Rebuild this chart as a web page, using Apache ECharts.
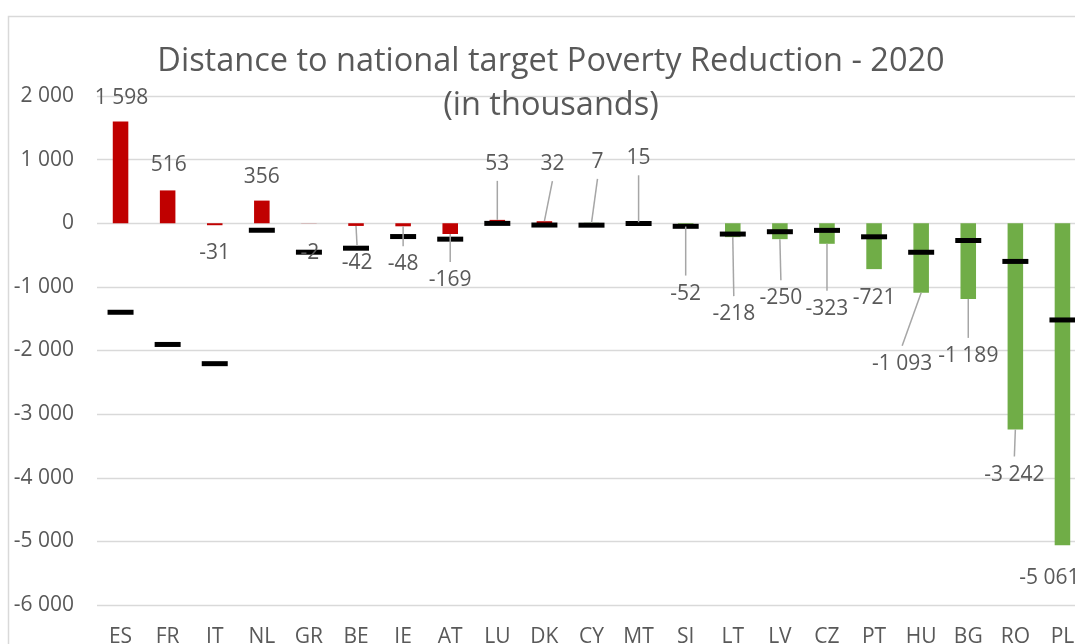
<!DOCTYPE html>
<html><head><meta charset="utf-8">
<script src="https://cdn.jsdelivr.net/npm/echarts@6/dist/echarts.min.js"></script>
<style>html,body{margin:0;padding:0;background:#fff}#c{width:1075px;height:644px}</style>
</head><body><div id="c"></div>
<script>
// ---- data ----
const categories = ['ES','FR','IT','NL','GR','BE','IE','AT','LU','DK','CY','MT','SI','LT','LV','CZ','PT','HU','BG','RO','PL'];
const distanceValues = [1598, 516, -31, 356, -2, -42, -48, -169, 53, 32, 7, 15, -52, -218, -250, -323, -721, -1093, -1189, -3242, -5061];
const targetValues = [-1399, -1905, -2207, -110, -455, -392, -209, -250, -2, -28, -30, -4, -48, -170, -133, -112, -213, -456, -271, -600, -1520];
const yTickValues = [2000, 1000, 0, -1000, -2000, -3000, -4000, -5000, -6000];
const titleLines = ['Distance to national target Poverty Reduction - 2020', '(in thousands)'];

// ---- layout / style ----
const labelOffsets = [[1,-24],[1,-25],[0,28],[0,-24],[1,30],[1,37],[0,38],[0,46],[0,-56],[8,-57],[6,-61],[0,-64],[0,67],[1,77],[1,59],[0,65],[0,29],[-19,71],[0,57],[-1,45],[-13,33]];
const RED = '#C00000', GREEN = '#70AD47', RED_COUNT = 10;
const TXT = '#595959', FONT = 'Open Sans';

function fmt(v){
  const s = Math.abs(v).toString().replace(/\B(?=(\d{3})+(?!\d))/g, ' ');
  return (v < 0 ? '-' : '') + s;
}

function renderLabels(params, api){
  const i = params.dataIndex;
  const v = api.value(1);
  const p = api.coord([i, v]);
  const off = labelOffsets[i];
  const lx = p[0] + off[0], ly = p[1] + off[1];
  const children = [];
  if (Math.abs(off[1]) > 34) {
    const ey = off[1] > 0 ? ly - 18 : ly + 17;
    children.push({type:'line', shape:{x1:p[0], y1:p[1], x2:lx, y2:ey}, style:{stroke:'#a6a6a6', lineWidth:1.5}});
  }
  children.push({type:'text', x:lx, y:ly, style:{text:fmt(v), fill:TXT, fontSize:21, fontFamily:FONT, align:'center', verticalAlign:'middle'}});
  return {type:'group', children};
}

const chart = echarts.init(document.getElementById('c'));
chart.setOption({
  animation:false,
  graphic:[{type:'rect', silent:true, z:-10, shape:{x:8.5, y:16.5, width:1300, height:900}, style:{fill:'none', stroke:'#d9d9d9', lineWidth:1.5}}],
  title:{text:titleLines.join('\n'), left:546, textAlign:'center', top:35,
    textStyle:{fontFamily:FONT, fontSize:32.5, fontWeight:'normal', color:TXT, lineHeight:44}},
  grid:{left:97, width:989, top:96, height:509, outerBoundsMode:'none', containLabel:false},
  xAxis:{type:'category', data:categories, axisLine:{show:false}, axisTick:{show:false},
    axisLabel:{interval:0, margin:22, fontSize:21, lineHeight:21, color:TXT, fontFamily:FONT}},
  yAxis:{type:'value', min:yTickValues[yTickValues.length-1], max:yTickValues[0], interval:1000,
    axisLine:{show:false}, axisTick:{show:false},
    axisLabel:{formatter:fmt, margin:23, fontSize:21, color:TXT, fontFamily:FONT},
    splitLine:{lineStyle:{color:'#d9d9d9', width:1.3}}},
  series:[
    {type:'bar', barWidth:'33%', z:2,
      data: distanceValues.map((v,i)=>({value:v, itemStyle:{color: i < RED_COUNT ? RED : GREEN}}))},
    {type:'scatter', symbol:'rect', symbolSize:[26,5], itemStyle:{color:'#000', opacity:1}, z:3, data: targetValues},
    {type:'custom', z:4, renderItem:renderLabels, encode:{x:0, y:1},
      data: distanceValues.map((v,i)=>[i, v])}
  ]
});
</script></body></html>
